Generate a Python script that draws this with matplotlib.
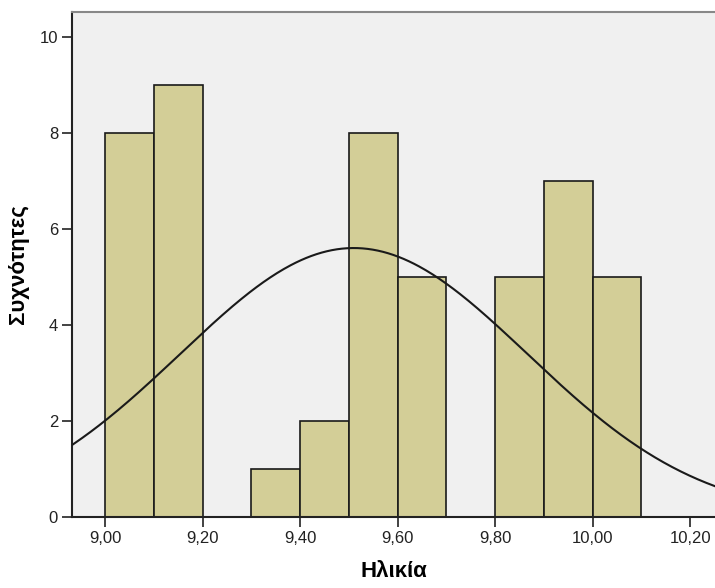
import numpy as np
import matplotlib
matplotlib.use("Agg")
import matplotlib.pyplot as plt

# histogram data (bin left edges, counts), bin width 0.1
bin_left = [9.00, 9.10, 9.20, 9.30, 9.40, 9.50, 9.60, 9.70, 9.80, 9.90, 10.00]
counts = [8, 9, 0, 1, 2, 8, 5, 0, 5, 7, 5]
bin_width = 0.1

# normal curve parameters
curve_mean = 9.51
curve_sd = 0.356
n_total = sum(counts)

xticks = [9.0, 9.2, 9.4, 9.6, 9.8, 10.0, 10.2]
xticklabels = ["9,00", "9,20", "9,40", "9,60", "9,80", "10,00", "10,20"]
yticks = [0, 2, 4, 6, 8, 10]

plt.rcParams['font.family'] = ['Liberation Sans', 'DejaVu Sans']

fig = plt.figure(figsize=(7.15, 5.88), dpi=100)
ax = fig.add_axes([0.1007, 0.1207, 0.8993, 0.8589])
ax.set_facecolor('#F0F0F0')

ax.bar(bin_left, counts, width=bin_width, align='edge',
       color='#D3CE97', edgecolor='#1a1a1a', linewidth=1.2, zorder=2)

xs = np.linspace(8.9, 10.3, 400)
ys = n_total * bin_width / (curve_sd * np.sqrt(2 * np.pi)) * np.exp(-0.5 * ((xs - curve_mean) / curve_sd) ** 2)
ax.plot(xs, ys, color='#1a1a1a', linewidth=1.5, zorder=3)

ax.set_xlim(8.932, 10.251)
ax.set_ylim(0, 10.52)

ax.set_xticks(xticks)
ax.set_xticklabels(xticklabels)
ax.set_yticks(yticks)
ax.tick_params(axis='both', direction='out', length=7, width=1.2, labelsize=12, colors='#222222', pad=3)

for side in ['left', 'bottom']:
    ax.spines[side].set_color('#222222')
    ax.spines[side].set_linewidth(1.5)
ax.spines['top'].set_color('#888888')
ax.spines['top'].set_linewidth(1.5)
ax.spines['right'].set_visible(False)

ax.set_xlabel('Ηλικία', fontsize=16, fontweight='bold', labelpad=11)
ax.set_ylabel('Συχνότητες', fontsize=16, fontweight='bold', labelpad=8)

fig.savefig('out.png', dpi=100, facecolor='white')
